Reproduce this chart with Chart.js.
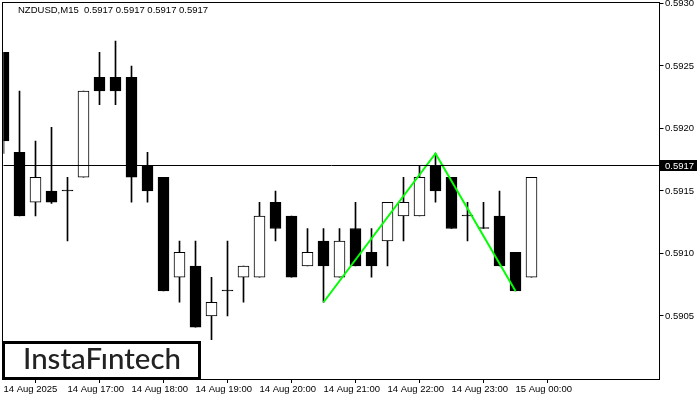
<!DOCTYPE html>
<html>
<head>
<meta charset="utf-8">
<script src="https://cdn.jsdelivr.net/npm/chart.js@4.4.1/dist/chart.umd.min.js"></script>
<style>
  html, body { margin: 0; padding: 0; background: #fff; }
</style>
</head>
<body>
<canvas id="candles" width="700" height="400"></canvas>
<script>
const symbolTitle = 'NZDUSD,M15  0.5917 0.5917 0.5917 0.5917';

// 15 minute bars, 14 Aug 16:00 .. 15 Aug 00:15
const times = [
  '16:00', '16:15', '16:30', '16:45', '17:00', '17:15', '17:30', '17:45',
  '18:00', '18:15', '18:30', '18:45', '19:00', '19:15', '19:30', '19:45',
  '20:00', '20:15', '20:30', '20:45', '21:00', '21:15', '21:30', '21:45',
  '22:00', '22:15', '22:30', '22:45', '23:00', '23:15', '23:30', '23:45',
  '00:00', '00:15'
];
const opens = [
  0.59261, 0.59181, 0.59141, 0.59150, 0.59150, 0.59161, 0.59241, 0.59241,
  0.59241, 0.59170, 0.59161, 0.59081, 0.59090, 0.59050, 0.59070, 0.59081,
  0.59081, 0.59141, 0.59130, 0.59090, 0.59110, 0.59081, 0.59120, 0.59101,
  0.59110, 0.59130, 0.59130, 0.59170, 0.59161, 0.59130, 0.59120, 0.59130,
  0.59101, 0.59081
];
const highs = [
  0.59261, 0.59230, 0.59190, 0.59201, 0.59161, 0.59230, 0.59261, 0.59270,
  0.59250, 0.59181, 0.59161, 0.59110, 0.59110, 0.59081, 0.59110, 0.59090,
  0.59141, 0.59150, 0.59130, 0.59120, 0.59120, 0.59120, 0.59141, 0.59120,
  0.59141, 0.59161, 0.59170, 0.59180, 0.59161, 0.59141, 0.59141, 0.59150,
  0.59101, 0.59161
];
const lows = [
  0.59180, 0.59130, 0.59130, 0.59140, 0.59110, 0.59161, 0.59219, 0.59219,
  0.59141, 0.59141, 0.59070, 0.59061, 0.59041, 0.59031, 0.59050, 0.59061,
  0.59081, 0.59110, 0.59081, 0.59090, 0.59061, 0.59081, 0.59090, 0.59081,
  0.59090, 0.59110, 0.59130, 0.59141, 0.59120, 0.59110, 0.59120, 0.59090,
  0.59070, 0.59081
];
const closes = [
  0.59190, 0.59130, 0.59161, 0.59141, 0.59150, 0.59230, 0.59230, 0.59230,
  0.59161, 0.59150, 0.59070, 0.59101, 0.59041, 0.59061, 0.59070, 0.59090,
  0.59130, 0.59120, 0.59081, 0.59101, 0.59090, 0.59110, 0.59090, 0.59090,
  0.59141, 0.59141, 0.59161, 0.59150, 0.59120, 0.59130, 0.59120, 0.59090,
  0.59070, 0.59161
];

// empty slots to the right of the last bar
const futureSlots = 8;

const xTickLabels = [
  '14 Aug 2025', '14 Aug 17:00', '14 Aug 18:00', '14 Aug 19:00', '14 Aug 20:00',
  '14 Aug 21:00', '14 Aug 22:00', '14 Aug 23:00', '15 Aug 00:00'
];
const yTicks = [0.5905, 0.5910, 0.5915, 0.5920, 0.5925, 0.5930];
const currentPrice = 0.5917;

// double top pattern (bar index, price)
const patternIdx = [20, 27, 32];
const patternVals = [0.59061, 0.59180, 0.59070];

const slots = times.concat(Array(futureSlots).fill(''));
const bodies = opens.map((o, i) => [o, closes[i]]);
const wicks = lows.map((l, i) => [l, highs[i]]);
const bodyColors = opens.map((o, i) => closes[i] > o ? '#ffffff' : '#000000');
const patternLine = slots.map((_, i) => {
  const k = patternIdx.indexOf(i);
  return k >= 0 ? patternVals[k] : null;
});

const FONT = "'Liberation Sans', Arial, sans-serif";

const chartDecor = {
  id: 'chartDecor',
  afterDatasetsDraw(chart) {
    const { ctx, chartArea } = chart;
    const y = Math.floor(chart.scales.y.getPixelForValue(currentPrice)) + 0.5;
    ctx.save();
    ctx.strokeStyle = '#000';
    ctx.lineWidth = 1;
    ctx.beginPath();
    ctx.moveTo(chartArea.left, y);
    ctx.lineTo(chartArea.right, y);
    ctx.stroke();
    ctx.restore();
  },
  afterDraw(chart) {
    const { ctx } = chart;
    ctx.save();
    // frame
    ctx.strokeStyle = '#000';
    ctx.lineWidth = 1;
    ctx.strokeRect(2.5, 2.5, 657, 377);

    // header
    ctx.fillStyle = '#000';
    ctx.font = '9.5px ' + FONT;
    ctx.textBaseline = 'middle';
    ctx.textAlign = 'left';
    ctx.fillText(symbolTitle, 18, 10.5);

    // price tag
    const py = Math.floor(chart.scales.y.getPixelForValue(currentPrice)) + 0.5;
    ctx.fillStyle = '#000';
    ctx.fillRect(660, py - 5.5, 37, 11);
    ctx.fillStyle = '#fff';
    ctx.fillText(currentPrice.toFixed(4), 665, py + 0.5);

    // logo
    ctx.fillStyle = '#fff';
    ctx.fillRect(2, 341, 199, 39);
    ctx.strokeStyle = '#000';
    ctx.lineWidth = 3;
    ctx.strokeRect(3.5, 342.5, 196, 36);
    ctx.fillStyle = '#222';
    ctx.textBaseline = 'alphabetic';
    let size = 28;
    ctx.font = '500 ' + size + "px Lato, 'Open Sans', sans-serif";
    const w = ctx.measureText('InstaFıntech').width;
    size = size * 158 / w;
    ctx.font = '500 ' + size.toFixed(2) + "px Lato, 'Open Sans', sans-serif";
    ctx.fillText('InstaFıntech', 23, 369);
    ctx.restore();
  }
};

const ctx = document.getElementById('candles').getContext('2d');

new Chart(ctx, {
  type: 'bar',
  data: {
    labels: slots,
    datasets: [
      {
        type: 'line',
        data: patternLine,
        borderColor: '#00ff00',
        borderWidth: 2,
        pointRadius: 0,
        spanGaps: true,
        tension: 0,
        order: 0
      },
      {
        data: bodies,
        backgroundColor: bodyColors,
        borderColor: '#000000',
        borderWidth: 1,
        borderSkipped: false,
        barThickness: 11,
        minBarLength: 1,
        grouped: false,
        order: 1
      },
      {
        data: wicks,
        backgroundColor: '#000000',
        borderWidth: 0,
        barThickness: 1,
        grouped: false,
        order: 2
      }
    ]
  },
  options: {
    responsive: false,
    animation: false,
    events: [],
    layout: {
      autoPadding: false,
      padding: { left: 3.5, top: 3, right: 0, bottom: 0 }
    },
    plugins: {
      legend: { display: false },
      tooltip: { enabled: false }
    },
    scales: {
      x: {
        type: 'category',
        offset: false,
        border: { display: false },
        grid: { drawOnChartArea: false, drawTicks: true, tickLength: 4, color: '#000' },
        ticks: {
          autoSkip: false,
          maxRotation: 0,
          minRotation: 0,
          align: 'start',
          padding: 1,
          color: '#000',
          font: { family: FONT, size: 9.5 },
          callback: function (value, index) {
            if (index % 4 !== 0) return null;
            const k = index / 4;
            return k < xTickLabels.length ? xTickLabels[k] : null;
          }
        },
        afterFit(scale) {
          scale.height = 21;
          scale.paddingLeft = 0;
          scale.paddingRight = 0;
        }
      },
      y: {
        position: 'right',
        min: 0.589996,
        max: 0.593004,
        border: { display: false },
        grid: { drawOnChartArea: false, drawTicks: true, tickLength: 4, color: '#000' },
        ticks: {
          padding: 1.5,
          color: '#000',
          font: { family: FONT, size: 9.5 },
          callback: v => v.toFixed(4)
        },
        afterBuildTicks(scale) {
          scale.ticks = yTicks.map(v => ({ value: v }));
        },
        afterFit(scale) {
          scale.width = 40.5;
          scale.paddingTop = 0;
          scale.paddingBottom = 0;
        }
      }
    }
  },
  plugins: [chartDecor]
});
</script>
</body>
</html>
